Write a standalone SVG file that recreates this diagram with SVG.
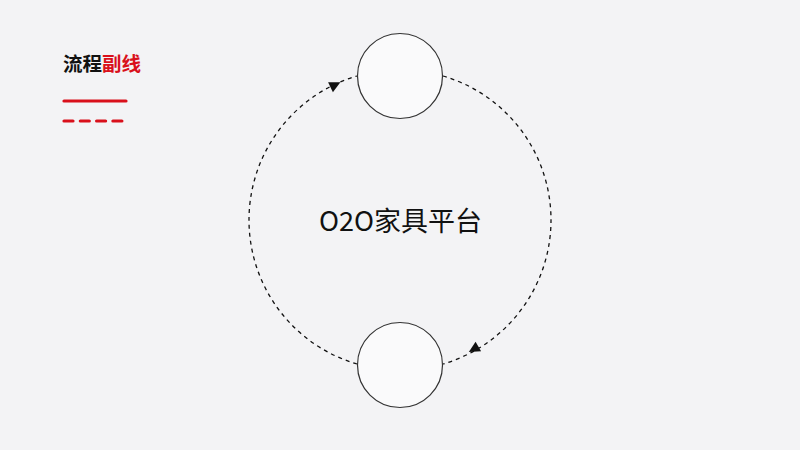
<svg xmlns="http://www.w3.org/2000/svg" width="800" height="450" viewBox="0 0 800 450">
<style>
.node{fill:#fafafb;stroke:#333;stroke-width:1.2}
.flow{fill:none;stroke:#111;stroke-width:1.3;stroke-dasharray:4 4}
.ah{fill:#111}
.cjk{font-family:"Noto Sans CJK SC","Noto Sans",sans-serif}
</style>
<defs>
<polygon id="arrow" points="6,0 -5,-5.5 -5,5.5"/>
</defs>
<rect width="800" height="450" fill="#f3f3f5"/>
<g id="legend">
<text x="63" y="71" class="cjk" font-size="19.5" font-weight="bold"><tspan fill="#111">流程</tspan><tspan fill="#d9101b">副线</tspan></text>
<line x1="64" y1="101" x2="126" y2="101" stroke="#d9101b" stroke-width="3.2" stroke-linecap="round"/>
<line x1="64" y1="121" x2="122" y2="121" stroke="#d9101b" stroke-width="3.2" stroke-linecap="round" stroke-dasharray="9 7.3"/>
</g>
<g id="connectors">
<path class="flow" d="M357,364 A150,150 0 0 1 357,76"/>
<path class="flow" d="M443,76 A150,150 0 0 1 443,364"/>
<use href="#arrow" class="ah" transform="translate(335,85) rotate(-26)"/>
<use href="#arrow" class="ah" transform="translate(474,349) rotate(150)"/>
</g>
<g id="node-top"><circle class="node" cx="400" cy="76" r="42.5"/></g>
<g id="node-bottom"><circle class="node" cx="400" cy="365" r="42.5"/></g>
<g id="center-label">
<text x="400.5" y="230.5" class="cjk" font-size="27" text-anchor="middle" fill="#111">O2O家具平台</text>
</g>
</svg>
